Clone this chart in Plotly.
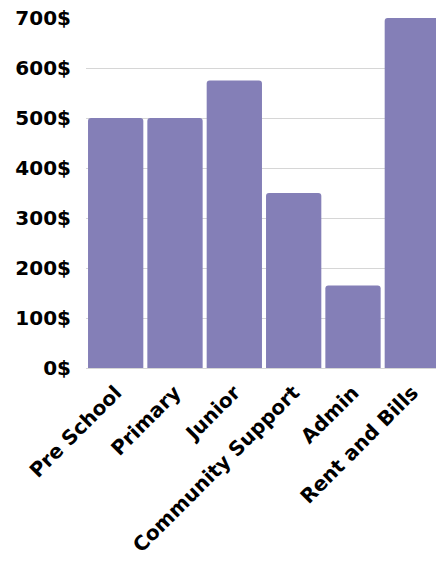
import plotly.graph_objects as go

categories = ["Pre School", "Primary", "Junior", "Community Support", "Admin", "Rent and Bills"]
values = [500, 500, 575, 350, 165, 700]
tick_vals = [0, 100, 200, 300, 400, 500, 600, 700]
tick_text = [f"{v}$" for v in tick_vals]

fig = go.Figure(go.Bar(
    x=categories, y=values,
    marker=dict(color="#847fb7", cornerradius=3, line=dict(width=0)),
))
fig.update_layout(
    width=442, height=571,
    margin=dict(l=86, r=0, t=18, b=203),
    paper_bgcolor="white", plot_bgcolor="white",
    bargap=0.068,
    showlegend=False,
    font=dict(family="DejaVu Sans", color="#000000"),
)
fig.update_yaxes(
    range=[0, 700], tickvals=tick_vals, ticktext=tick_text,
    tickfont=dict(size=20, family="DejaVu Sans", weight="bold", color="#000"),
    showgrid=True, gridcolor="#d6d6d6", gridwidth=1,
    zeroline=True, zerolinecolor="#d6d6d6", zerolinewidth=1,
    ticklabelstandoff=14, fixedrange=True, automargin=False,
)
fig.update_xaxes(
    tickangle=-45,
    tickfont=dict(size=20, family="DejaVu Sans", weight="bold", color="#000"),
    showgrid=False, showline=False, ticks="", fixedrange=True,
    ticklabelstandoff=8, automargin=False,
)
fig.write_html(
    "out.html",
    config={"displayModeBar": False},
    post_script="document.body.style.margin='0';document.body.style.overflow='hidden';",
)
